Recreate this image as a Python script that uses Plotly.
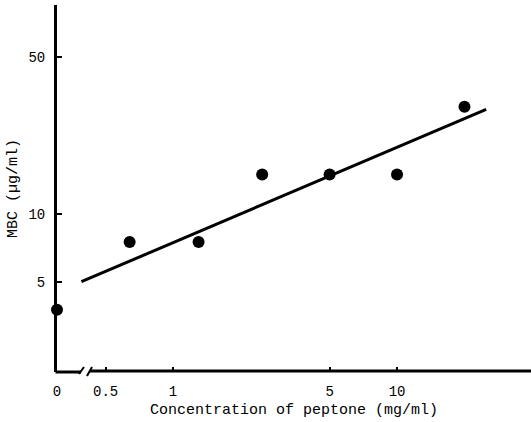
import plotly.graph_objects as go

# ---- data ----
conc = [0, 0.64, 1.3, 2.5, 5, 10, 20]            # peptone, mg/ml (0 drawn left of the axis break)
mbc = [3.75, 7.5, 7.5, 15, 15, 15, 30]           # MBC, ug/ml
fit_x = [0.39, 25.0]                              # ends of the drawn fit line
fit_y = [5.0, 29.2]
x_tick_vals = [0.5, 1, 5, 10]
x_tick_text = ["0.5", "1", "5", "10"]
y_tick_vals = [5, 10, 50]
y_tick_text = ["5", "10", "50"]

# ---- layout constants ----
W, H = 531, 422
ML, MR, MT, MB = 57, 0, 5, 50
X_RANGE = [-0.518, 1.598]          # log10 units
Y_RANGE = [0.297, 1.930]
ZERO_POS = 10 ** X_RANGE[0]        # where "0" sits, left of the break

px = [ZERO_POS if c == 0 else c for c in conc]
FONT = "Courier New, Liberation Mono, monospace"

fig = go.Figure()
fig.add_trace(go.Scatter(x=fit_x, y=fit_y, mode="lines",
                         line=dict(color="black", width=3), showlegend=False))
fig.add_trace(go.Scatter(x=px, y=mbc, mode="markers", cliponaxis=False,
                         marker=dict(color="black", size=12), showlegend=False))

pw = W - ML - MR
ph = H - MT - MB
def pxx(p):  # pixel x -> paper
    return (p - ML) / pw
def pxy(p):  # pixel y -> paper
    return (H - MB - p) / ph

shapes = []
# x axis line with a break between 0 and 0.5
shapes.append(dict(type="line", xref="paper", yref="paper", x0=pxx(55.5), x1=pxx(81), y0=pxy(372), y1=pxy(372),
                   line=dict(color="black", width=3)))
shapes.append(dict(type="line", xref="paper", yref="paper", x0=pxx(79), x1=pxx(84), y0=pxy(374), y1=pxy(367),
                   line=dict(color="black", width=2)))
shapes.append(dict(type="line", xref="paper", yref="paper", x0=pxx(87), x1=pxx(92), y0=pxy(376), y1=pxy(367),
                   line=dict(color="black", width=2)))
shapes.append(dict(type="line", xref="paper", yref="paper", x0=pxx(90), x1=1.0, y0=pxy(371), y1=pxy(371),
                   line=dict(color="black", width=3)))

fig.update_layout(
    width=W, height=H,
    margin=dict(l=ML, r=MR, t=MT, b=MB),
    paper_bgcolor="white", plot_bgcolor="white",
    font=dict(family=FONT, color="black", size=14),
    shapes=shapes,
    xaxis=dict(type="log", range=X_RANGE, showgrid=False, zeroline=False, showline=False,
               tickvals=[ZERO_POS] + x_tick_vals, ticktext=["0"] + x_tick_text,
               ticks="inside", ticklen=5, tickwidth=1.5, tickcolor="black",
               tickfont=dict(family=FONT, size=14), ticklabelstandoff=9,
               title=dict(text="Concentration of peptone (mg/ml)", font=dict(family=FONT, size=15), standoff=4)),
    yaxis=dict(type="log", range=Y_RANGE, showgrid=False, zeroline=False,
               showline=True, linecolor="black", linewidth=3,
               tickvals=y_tick_vals, ticktext=y_tick_text,
               ticks="inside", ticklen=5, tickwidth=1.5, tickcolor="black",
               tickfont=dict(family=FONT, size=14), ticklabelstandoff=6,
               title=dict(text="MBC (µg/ml)", font=dict(family=FONT, size=15), standoff=8)),
)

fig.write_html("out.html")
